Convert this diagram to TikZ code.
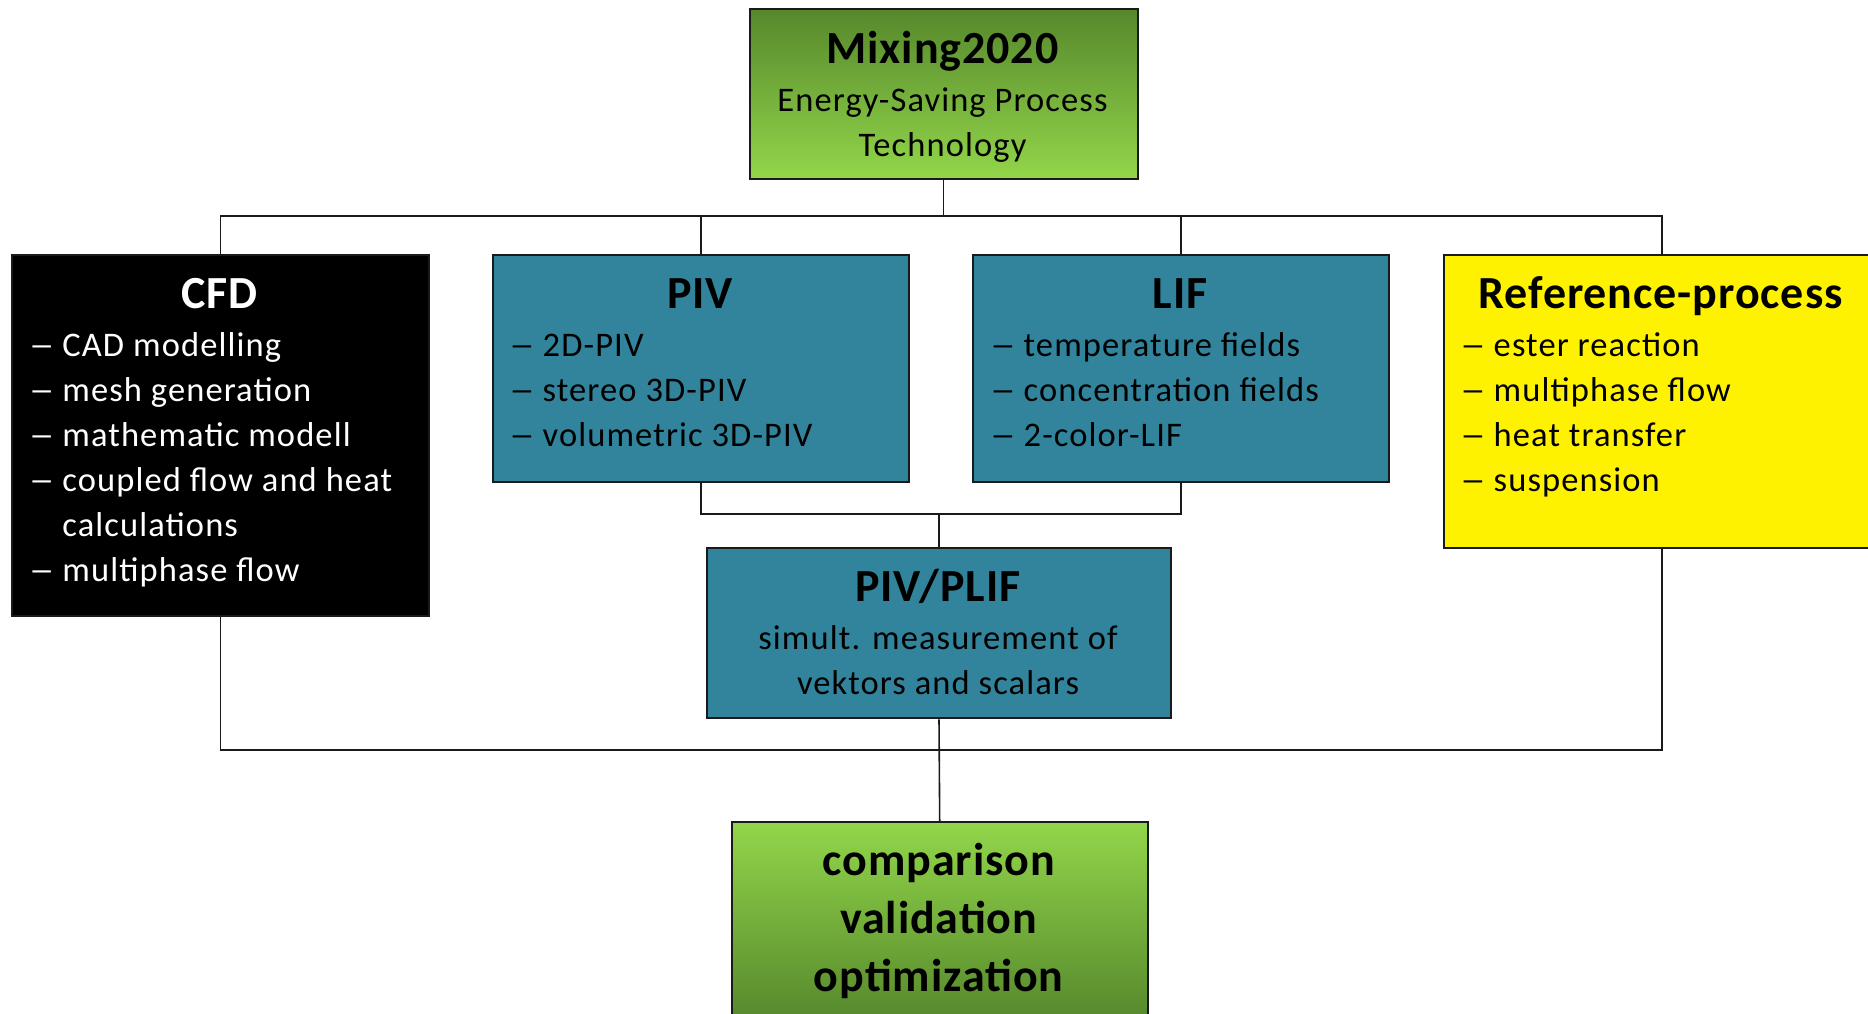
\documentclass[tikz,border=0pt]{standalone}
\usepackage{fontspec}
\setmainfont{Carlito}[LetterSpace=2]
\newfontfamily\bodyfam{Carlito}[LetterSpace=3.2]
\definecolor{gdark}{RGB}{86,136,44}
\definecolor{glight}{RGB}{146,214,74}
\definecolor{teal}{RGB}{49,132,155}
\definecolor{edge}{RGB}{26,26,26}
\newcommand\bodyf{\bodyfam\fontsize{34.5}{45}\selectfont}
\newcommand\titf{\fontsize{46}{52}\selectfont\bfseries}
\newcommand\itm[1]{\makebox[30.5pt][l]{\hspace*{-3pt}\scalebox{1.5}[1]{–}}#1\par}
\newcommand\lst[1]{\parbox[t]{440pt}{\raggedright\parskip=0pt\bodyf #1}}
\tikzset{
  box/.style={draw=edge, line width=2pt, inner sep=0pt, anchor=north west},
  txt/.style={inner sep=0pt, anchor=base},
  lsttxt/.style={inner sep=0pt, anchor=base west},
  conn/.style={line width=1.6pt, draw=edge},
}
\begin{document}
\begin{tikzpicture}[x=1pt,y=-1pt]
\useasboundingbox (0,0) rectangle (1868,1014);
\clip (0,0) rectangle (1868,1014);
% boxes
\node[box, top color=gdark, bottom color=glight, minimum width=388pt, minimum height=170pt] (mix) at (748.5,8.3) {};
\node[box, fill=black, minimum width=417pt, minimum height=361pt] (cfd) at (11,253.5) {};
\node[box, fill=teal, minimum width=416pt, minimum height=227pt] (piv) at (492,254) {};
\node[box, fill=teal, minimum width=416pt, minimum height=227pt] (lif) at (972,254) {};
\node[box, fill=yellow, minimum width=436pt, minimum height=292.7pt] (ref) at (1442.7,254) {};
\node[box, fill=teal, minimum width=464pt, minimum height=170.6pt] (plif) at (706,546.7) {};
\node[box, top color=glight, bottom color=gdark, minimum width=416pt, minimum height=198pt] (bot) at (730.7,821) {};
% connectors
\coordinate (tbus) at (942.5,216);
\coordinate (mbus) at (938,514);
\coordinate (bbus) at (938,750);
\draw[conn] (mix.south) -- (mix.south |- tbus);
\draw[conn] (cfd.north) |- (tbus) -| (ref.north);
\draw[conn] (piv.north) -- (piv.north |- tbus);
\draw[conn] (lif.north) -- (lif.north |- tbus);
\draw[conn] (piv.south) |- (mbus) -| (lif.south);
\draw[conn] (plif.north |- mbus) -- (plif.north);
\draw[conn] (cfd.south) |- (bbus) -| (ref.south);
\draw[conn] (plif.south) -- (bot.north);
% texts
\node[txt, font=\titf] (mixt) at (942.5,63.3) {Mixing2020};
\node[txt, font=\bodyf] (mix1) at (942.5,111.7) {Energy-Saving Process};
\node[txt, font=\bodyf] (mix2) at (942.5,156.7) {Technology};

\node[txt, text=white, font=\titf] (cfdt) at (219.6,308.3) {CFD};
\node[lsttxt, text=white] (cfdl) at (31.7,356.7) {\lst{\itm{CAD modelling}\itm{mesh generation}\itm{mathematic modell}\itm{coupled flow and heat}\hspace*{30.5pt}calculations\par\itm{multiphase flow}}};

\node[txt, font=\titf] (pivt) at (700,308.3) {PIV};
\node[lsttxt] (pivl) at (512,356.7) {\lst{\itm{2D-PIV}\itm{stereo 3D-PIV}\itm{volumetric 3D-PIV}}};

\node[txt, font=\titf] (lift) at (1180,308.3) {LIF};
\node[lsttxt] (lifl) at (993,356.7) {\lst{\itm{temperature fields}\itm{concentration fields}\itm{2-color-LIF}}};

\node[txt, font=\titf] (reft) at (1660.7,308) {Reference-process};
\node[lsttxt] (refl) at (1463,356.7) {\lst{\itm{ester reaction}\itm{multiphase flow}\itm{heat transfer}\itm{suspension}}};

\node[txt, font=\titf] (plift) at (938,601.7) {PIV/PLIF};
\node[txt, font=\bodyf] (plif1) at (938,649) {simult. measurement of};
\node[txt, font=\bodyf] (plif2) at (938,694) {vektors and scalars};

\node[txt, font=\titf] (bot1) at (938.7,875) {comparison};
\node[txt, font=\titf] (bot2) at (938.7,933.3) {validation};
\node[txt, font=\titf] (bot3) at (938.7,991.7) {optimization};
\end{tikzpicture}
\end{document}
